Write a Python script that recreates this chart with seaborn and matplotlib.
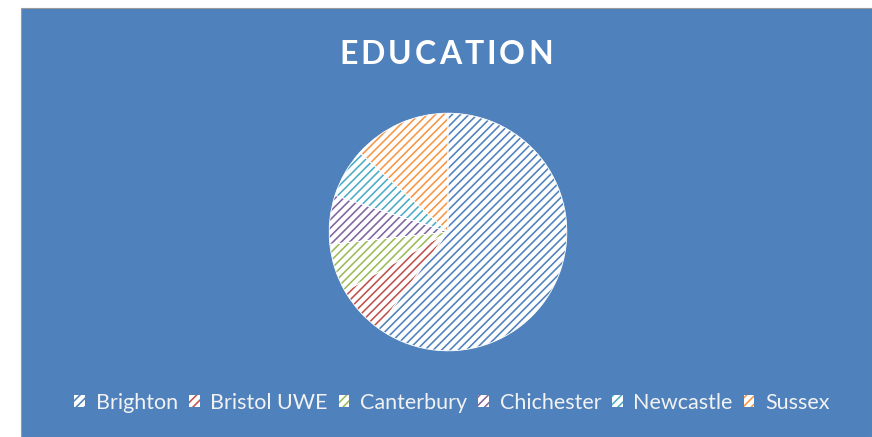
import matplotlib
matplotlib.use("Agg")
import matplotlib.pyplot as plt
from matplotlib.patches import Rectangle
import seaborn as sns

# datos
universities = ["Brighton", "Bristol UWE", "Canterbury", "Chichester", "Newcastle", "Sussex"]
counts = [27, 3, 3, 3, 3, 6]
colors = ["#4F81BD", "#C0504D", "#9BBB59", "#8064A2", "#4BACC6", "#F79646"]
title = "EDUCATION"

sns.set_theme(style="white")
plt.rcParams["font.family"] = ["Lato", "DejaVu Sans"]
plt.rcParams["hatch.linewidth"] = 1.15

bg = "#4F81BD"
W, H = 872, 437
fig = plt.figure(figsize=(W / 100, H / 100), dpi=100, facecolor="white")

# fondo azul del grafico
fig.patches.append(Rectangle((21 / W, 0), 1 - 21 / W, (H - 8) / H, transform=fig.transFigure,
                             facecolor=bg, edgecolor="#9a9a9a", linewidth=0.8, zorder=-5))

cx, cy, r = 448, 232, 120
ax = fig.add_axes([(cx - r) / W, (H - cy - r) / H, 2 * r / W, 2 * r / H])
ax.set_facecolor("none")
palette = sns.color_palette(colors)

wedges, _ = ax.pie(counts, colors=["white"] * len(counts), startangle=90, counterclock=False,
                   radius=1, wedgeprops=dict(linewidth=0))
for w, c in zip(wedges, palette):
    w.set_edgecolor(c)
    w.set_hatch("////")
# bordes blancos finos entre sectores
ax.pie(counts, colors=["none"] * len(counts), startangle=90, counterclock=False, radius=1,
       wedgeprops=dict(linewidth=0.6, edgecolor="white", fill=False))
ax.set_xlim(-1.01, 1.01)
ax.set_ylim(-1.01, 1.01)
ax.set_aspect("equal")
ax.axis("off")

# titulo con espaciado entre letras
renderer = fig.canvas.get_renderer()
letters = [fig.text(0, 0, ch, color="white", fontsize=23, fontweight="bold", va="center")
           for ch in title]
widths = [t.get_window_extent(renderer).width for t in letters]
spacing = 3.0
total = sum(widths) + spacing * (len(widths) - 1)
x = 446 - total / 2
for t, w in zip(letters, widths):
    t.set_position((x / W, 1 - 55 / H))
    x += w + spacing

fig.legend(wedges, universities, loc="center", bbox_to_anchor=(452 / W, 1 - 403 / H), ncol=6,
           frameon=False, fontsize=15.5, labelcolor="#f2f2f2", handlelength=0.5, handleheight=0.5,
           handletextpad=0.5, columnspacing=0.5)

fig.savefig("out.png", dpi=100, facecolor="white")
